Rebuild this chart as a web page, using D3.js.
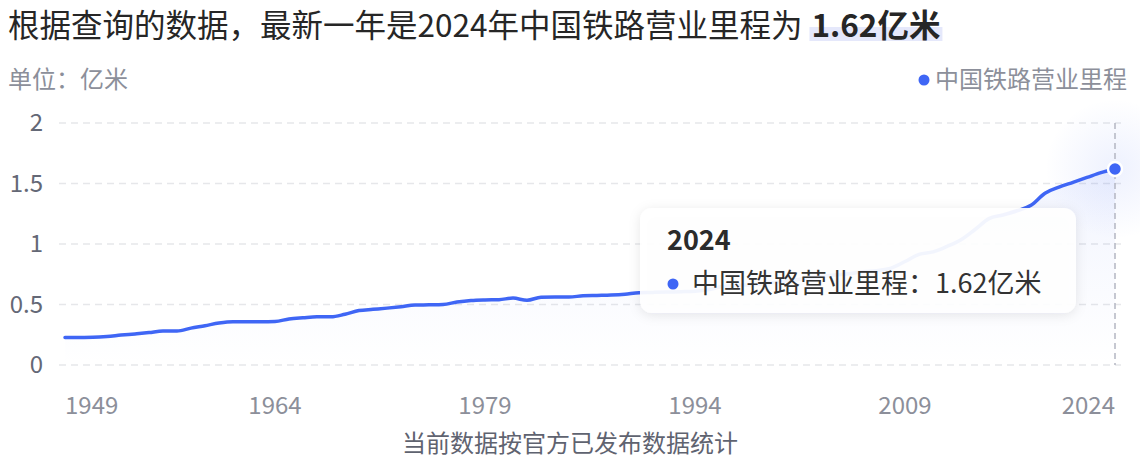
<!DOCTYPE html>
<meta charset="utf-8">
<style type="text/css">
html, body{
	padding: 0;
	margin: 0;
	background: #fff;
}
text {
	font-family: "Noto Sans CJK SC", "Noto Sans", sans-serif;
}
</style>

<svg width=1140 height=464></svg>

<script src="https://cdn.jsdelivr.net/npm/d3@7"></script>

<script type="text/javascript">
	// 中国铁路营业里程 (亿米), 1949-2024
	var years = d3.range(1949, 2025);
	var mileage = [
		0.228, 0.228, 0.229, 0.235, 0.247, 0.257, 0.268, 0.281, 0.281, 0.305,
		0.325, 0.347, 0.358, 0.358, 0.358, 0.360, 0.380, 0.390, 0.398, 0.398,
		0.420, 0.450, 0.460, 0.470, 0.482, 0.495, 0.497, 0.500, 0.520, 0.533,
		0.538, 0.540, 0.553, 0.535, 0.560, 0.562, 0.562, 0.572, 0.575, 0.578,
		0.585, 0.598, 0.600, 0.603, 0.606, 0.610, 0.624, 0.649, 0.660, 0.664,
		0.674, 0.687, 0.701, 0.719, 0.730, 0.744, 0.754, 0.771, 0.780, 0.800,
		0.855, 0.915, 0.935, 0.980, 1.035, 1.120, 1.210, 1.240, 1.275, 1.320,
		1.420, 1.470, 1.510, 1.550, 1.590, 1.620
	];
	var yTicks = [0, 0.5, 1, 1.5, 2];
	var xTicks = [1949, 1964, 1979, 1994, 2009, 2024];
	var seriesName = '中国铁路营业里程';
	var unit = '亿米';

	data = years.map((d,p)=>{return{x:d,y:mileage[p]}})
	var last = data[data.length-1];

	var svg = d3.select('svg');
	var blue = '#3f66f5';

	var x = d3.scaleLinear().range([65,1115]).domain(d3.extent(years));
	var y = d3.scaleLinear().range([365,123]).domain([0,2]);

	var defs = svg.append('defs');
	var ag = defs.append('linearGradient').attr('id','areaGrad')
		.attr('x1',0).attr('y1',0).attr('x2',0).attr('y2',1);
	ag.append('stop').attr('offset','0%').attr('stop-color',blue).attr('stop-opacity',0.07);
	ag.append('stop').attr('offset','100%').attr('stop-color',blue).attr('stop-opacity',0.0);
	var rg = defs.append('radialGradient').attr('id','glow');
	rg.append('stop').attr('offset','0%').attr('stop-color',blue).attr('stop-opacity',0.09);
	rg.append('stop').attr('offset','100%').attr('stop-color',blue).attr('stop-opacity',0);
	var sh = defs.append('filter').attr('id','shadow')
		.attr('x','-10%').attr('y','-20%').attr('width','120%').attr('height','150%');
	sh.append('feDropShadow').attr('dx',0).attr('dy',2).attr('stdDeviation',6)
		.attr('flood-color','#1a2040').attr('flood-opacity',0.10);

	// title
	var t1 = svg.append('text').attr('x',8).attr('y',36.5)
		.style('font-size','31.5px').style('fill','#262626')
		.text('根据查询的数据，最新一年是2024年中国铁路营业里程为');
	var tx = 8 + t1.node().getComputedTextLength() + 9;
	var hlRect = svg.append('rect').attr('y',27).attr('height',14).style('fill','#e5e8fb');
	var hl = svg.append('text').attr('x',tx).attr('y',36.5)
		.style('font-size','31.5px').style('font-weight','bold').style('fill','#262626')
		.text(last.y.toFixed(2)+unit);
	var hw = hl.node().getComputedTextLength();
	hlRect.attr('x',tx-2).attr('width',hw+4);

	svg.append('text').attr('x',8).attr('y',88)
		.style('font-size','24px').style('fill','#8c8f9a')
		.text('单位：'+unit);

	// legend
	var lg = svg.append('text').attr('x',1127).attr('y',88)
		.attr('text-anchor','end')
		.style('font-size','24px').style('fill','#8c8f9a')
		.text(seriesName);
	var lb = lg.node().getBBox();
	svg.append('circle').attr('cx',lb.x-11).attr('cy',80).attr('r',5.5).style('fill',blue);

	// grid + y axis
	svg.selectAll('line.grid').data(yTicks).enter().append('line')
		.attr('class','grid')
		.attr('x1',59).attr('x2',1121)
		.attr('y1',d=>y(d)).attr('y2',d=>y(d))
		.style('stroke','#e6e7ea').style('stroke-width',1.5).style('stroke-dasharray','7,5');
	svg.selectAll('text.ytick').data(yTicks).enter().append('text')
		.attr('class','ytick')
		.attr('x',43).attr('y',d=>y(d)+8)
		.attr('text-anchor','end')
		.style('font-size','24px').style('fill','#646876')
		.text(d=>d);

	// x axis labels
	svg.selectAll('text.xtick').data(xTicks).enter().append('text')
		.attr('class','xtick')
		.attr('x',d=>x(d))
		.attr('y',414)
		.attr('text-anchor',(d,p)=>p==0?'start':(p==xTicks.length-1?'end':'middle'))
		.style('font-size','24px').style('fill','#8c8f9a')
		.text(d=>d);

	svg.append('text').attr('x',570).attr('y',452).attr('text-anchor','middle')
		.style('font-size','24px').style('fill','#5f6370')
		.text('当前数据按官方已发布数据统计');

	// area + line
	svg.append('path').datum(data)
		.attr('d',d3.area().x(d=>x(d.x)).y0(y(0)).y1(d=>y(d.y)).curve(d3.curveMonotoneX))
		.style('fill','url(#areaGrad)');

	svg.append('circle').attr('cx',x(last.x)).attr('cy',y(last.y)).attr('r',70)
		.style('fill','url(#glow)');

	svg.append('line')
		.attr('x1',x(last.x)).attr('x2',x(last.x)).attr('y1',y(2)).attr('y2',y(0))
		.style('stroke','#b4b7c2').style('stroke-width',1.5).style('stroke-dasharray','6,4');

	svg.append('path').datum(data)
		.attr('d',d3.line().x(d=>x(d.x)).y(d=>y(d.y)).curve(d3.curveMonotoneX))
		.style('fill','none').style('stroke',blue).style('stroke-width',3.5)
		.style('stroke-linejoin','round').style('stroke-linecap','round');

	svg.append('circle').attr('cx',x(last.x)).attr('cy',y(last.y)).attr('r',7)
		.style('fill',blue).style('stroke','#fff').style('stroke-width',2.5);

	// tooltip
	var tip = svg.append('g').attr('transform','translate(640,208)');
	tip.append('rect').attr('width',436).attr('height',105).attr('rx',12)
		.style('fill','#fff').style('fill-opacity',0.93).attr('filter','url(#shadow)');
	tip.append('text').attr('x',27).attr('y',42)
		.style('font-size','27px').style('font-weight','bold').style('fill','#2b2b2b')
		.text(last.x);
	tip.append('circle').attr('cx',33).attr('cy',76).attr('r',5.5).style('fill',blue);
	tip.append('text').attr('x',52).attr('y',85)
		.style('font-size','27px').style('fill','#333')
		.text(seriesName+'：'+last.y.toFixed(2)+unit);
</script>
